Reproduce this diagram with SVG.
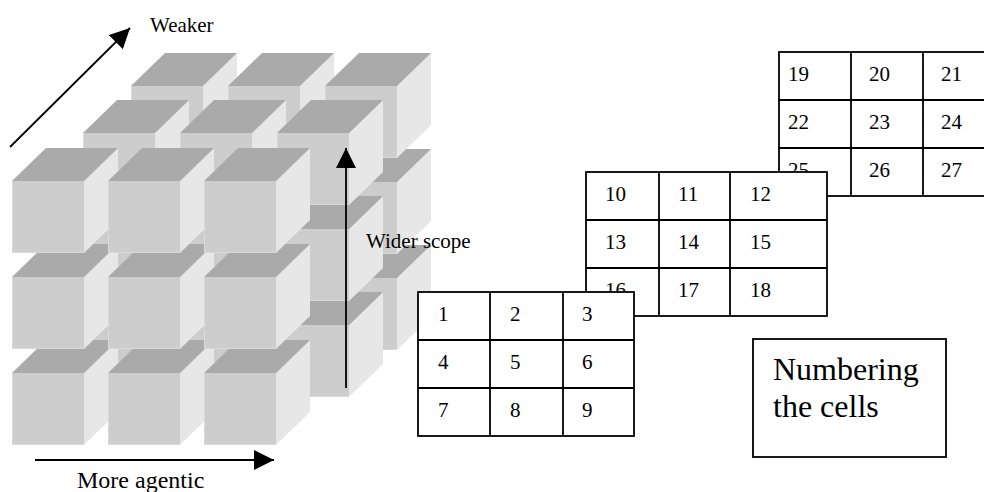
<svg xmlns="http://www.w3.org/2000/svg" xmlns:xlink="http://www.w3.org/1999/xlink" width="984" height="492" viewBox="0 0 984 492">
  <style>
    .txt { font-family: "Liberation Serif", "Times New Roman", serif; fill: #000; }
    .axis { font-size: 21px; }
    .axis-lg { font-size: 24px; }
    .num { font-size: 21px; }
    .big { font-size: 32px; }
    .frame { fill: #fff; stroke: #000; stroke-width: 1.8; }
    .rule { stroke: #000; stroke-width: 1.8; fill: none; }
    .arrow { stroke: #000; stroke-width: 1.8; fill: none; marker-end: url(#head); }
    .top { fill: #a9aaa9; }
    .front { fill: #cdcdcd; }
    .side { fill: #e7e7e7; }
    .bevel { fill: none; stroke: #d9d9d9; stroke-width: 1; }
  </style>
  <defs>
    <marker id="head" markerUnits="userSpaceOnUse" markerWidth="20" markerHeight="20" refX="20" refY="10" orient="auto">
      <path d="M0,0 L20,10 L0,20 Z" fill="#000"/>
    </marker>
    <!-- one block: front face at (0,0), 72x72, receding 34 right and 33 up -->
    <g id="cube">
      <polygon class="side" points="72,0 106,-33 106,39 72,72"/>
      <polygon class="top" points="0,0 34,-33 106,-33 72,0"/>
      <rect class="front" x="0" y="0" width="72" height="72"/>
      <path class="bevel" d="M0.5,0 V71.5 H72"/>
    </g>
  </defs>

  <rect width="984" height="492" fill="#fff"/>

  <!-- 3x3x3 block stack, drawn back layer first, bottom row first, left to right -->
  <g id="cube-stack">
    <g id="layer-back">
      <use xlink:href="#cube" x="131" y="278"/>
      <use xlink:href="#cube" x="228" y="278"/>
      <use xlink:href="#cube" x="325" y="278"/>
      <use xlink:href="#cube" x="131" y="182"/>
      <use xlink:href="#cube" x="228" y="182"/>
      <use xlink:href="#cube" x="325" y="182"/>
      <use xlink:href="#cube" x="131" y="86"/>
      <use xlink:href="#cube" x="228" y="86"/>
      <use xlink:href="#cube" x="325" y="86"/>
    </g>
    <g id="layer-middle">
      <use xlink:href="#cube" x="83" y="325"/>
      <use xlink:href="#cube" x="180" y="325"/>
      <use xlink:href="#cube" x="277" y="325"/>
      <use xlink:href="#cube" x="83" y="229"/>
      <use xlink:href="#cube" x="180" y="229"/>
      <use xlink:href="#cube" x="277" y="229"/>
      <use xlink:href="#cube" x="83" y="133"/>
      <use xlink:href="#cube" x="180" y="133"/>
      <use xlink:href="#cube" x="277" y="133"/>
    </g>
    <g id="layer-front">
      <use xlink:href="#cube" x="12" y="373"/>
      <use xlink:href="#cube" x="108" y="373"/>
      <use xlink:href="#cube" x="204" y="373"/>
      <use xlink:href="#cube" x="12" y="277"/>
      <use xlink:href="#cube" x="108" y="277"/>
      <use xlink:href="#cube" x="204" y="277"/>
      <use xlink:href="#cube" x="12" y="181"/>
      <use xlink:href="#cube" x="108" y="181"/>
      <use xlink:href="#cube" x="204" y="181"/>
    </g>
  </g>

  <!-- axis arrows -->
  <g id="connectors">
    <line class="arrow" x1="10" y1="147" x2="130" y2="28"/>
    <line class="arrow" x1="346" y1="388" x2="346" y2="148"/>
    <line class="arrow" x1="35" y1="460" x2="274" y2="460"/>
  </g>

  <g id="axis-labels">
    <text class="txt axis" x="150" y="32">Weaker</text>
    <text class="txt axis" x="366" y="248">Wider scope</text>
    <text class="txt axis-lg" x="77" y="488">More agentic</text>
  </g>

  <!-- layer 3 grid (cells 19-27), partly off the right edge -->
  <g id="grid-layer3">
    <rect class="frame" x="779" y="52" width="241" height="144"/>
    <path class="rule" d="M851,52 V196 M923,52 V196 M779,100 H1020 M779,148 H1020"/>
    <text class="txt num" x="788" y="81">19</text>
    <text class="txt num" x="869" y="81">20</text>
    <text class="txt num" x="941" y="81">21</text>
    <text class="txt num" x="788" y="129">22</text>
    <text class="txt num" x="869" y="129">23</text>
    <text class="txt num" x="941" y="129">24</text>
    <text class="txt num" x="788" y="177">25</text>
    <text class="txt num" x="869" y="177">26</text>
    <text class="txt num" x="941" y="177">27</text>
  </g>

  <!-- layer 2 grid (cells 10-18) -->
  <g id="grid-layer2">
    <rect class="frame" x="586" y="172" width="241" height="144"/>
    <path class="rule" d="M659,172 V316 M730,172 V316 M586,220 H827 M586,268 H827"/>
    <text class="txt num" x="605" y="201">10</text>
    <text class="txt num" x="678" y="201">11</text>
    <text class="txt num" x="750" y="201">12</text>
    <text class="txt num" x="605" y="249">13</text>
    <text class="txt num" x="678" y="249">14</text>
    <text class="txt num" x="750" y="249">15</text>
    <text class="txt num" x="605" y="297">16</text>
    <text class="txt num" x="678" y="297">17</text>
    <text class="txt num" x="750" y="297">18</text>
  </g>

  <!-- layer 1 grid (cells 1-9) -->
  <g id="grid-layer1">
    <rect class="frame" x="418" y="292" width="216" height="144"/>
    <path class="rule" d="M490,292 V436 M563,292 V436 M418,340 H634 M418,388 H634"/>
    <text class="txt num" x="438" y="321">1</text>
    <text class="txt num" x="510" y="321">2</text>
    <text class="txt num" x="582" y="321">3</text>
    <text class="txt num" x="438" y="369">4</text>
    <text class="txt num" x="510" y="369">5</text>
    <text class="txt num" x="582" y="369">6</text>
    <text class="txt num" x="438" y="417">7</text>
    <text class="txt num" x="510" y="417">8</text>
    <text class="txt num" x="582" y="417">9</text>
  </g>

  <g id="caption-box">
    <rect class="frame" x="753" y="339" width="193" height="118"/>
    <text class="txt big" x="773" y="380">Numbering</text>
    <text class="txt big" x="773" y="417">the cells</text>
  </g>
</svg>
